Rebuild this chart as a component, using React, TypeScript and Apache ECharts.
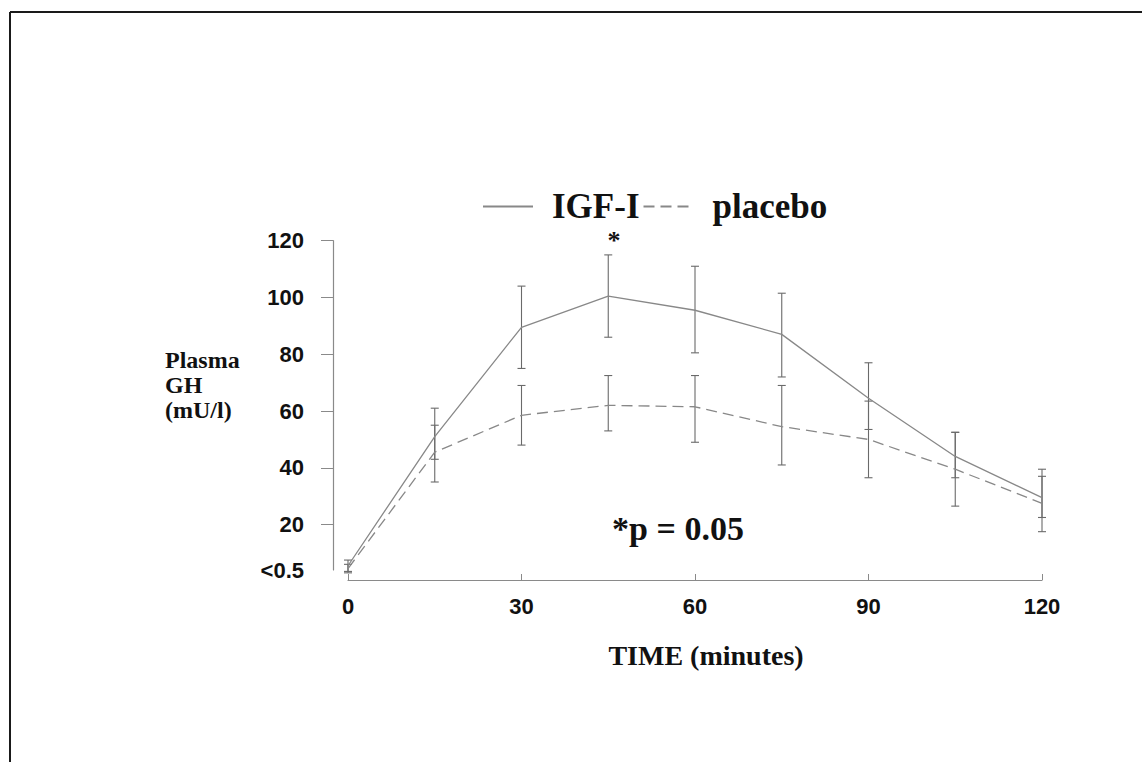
import React, { useEffect, useRef } from "react";
import * as echarts from "echarts";

// ---- data ----
const TIME_MIN = [0, 15, 30, 45, 60, 75, 90, 105, 120];
const IGF_MEAN = [5.5, 51, 89.5, 100.5, 95.5, 87, 64.5, 44, 29.5];
const IGF_LOW = [3.5, 43, 75, 86, 80.5, 72, 53.5, 36.5, 22.5];
const IGF_HIGH = [7.5, 61, 104, 115, 111, 101.5, 77, 52.5, 37];
const PLACEBO_MEAN = [4.5, 45.5, 58.5, 62, 61.5, 54.5, 50, 39.5, 27.5];
const PLACEBO_LOW = [3, 35, 48, 53, 49, 41, 36.5, 26.5, 17.5];
const PLACEBO_HIGH = [6, 55, 69, 72.5, 72.5, 69, 63.5, 52.5, 39.5];
const X_TICKS = [0, 30, 60, 90, 120];
const Y_TICKS = [20, 40, 60, 80, 100, 120];
const Y_FLOOR = 4; // bottom of the axis, labelled "<0.5"
const Y_FLOOR_LABEL = "<0.5";
const SERIES_NAMES = ["IGF-I", "placebo"];

const SERIF = "'Liberation Serif', 'Times New Roman', serif";
const SANS = "'Liberation Sans Narrow', 'Arial Narrow', 'Liberation Sans', Arial, sans-serif";

const GRID_TOP = 240.7;
const GRID_BOTTOM = 762 - 570;

function errorBars(name: string, low: number[], high: number[]) {
  return {
    type: "custom",
    name: name + " SEM",
    data: TIME_MIN.map((t, i) => [t, low[i], high[i]]),
    encode: { x: 0, y: [1, 2] },
    xAxisIndex: 0,
    yAxisIndex: 0,
    silent: true,
    z: 3,
    renderItem: (params: any, api: any) => {
      const lo = api.coord([api.value(0), api.value(1)]);
      const hi = api.coord([api.value(0), api.value(2)]);
      const w = 4;
      const st = { stroke: "#6a6a6a", lineWidth: 1.1 };
      return {
        type: "group",
        children: [
          { type: "line", shape: { x1: lo[0], y1: lo[1], x2: hi[0], y2: hi[1] }, style: st },
          { type: "line", shape: { x1: lo[0] - w, y1: lo[1], x2: lo[0] + w, y2: lo[1] }, style: st },
          { type: "line", shape: { x1: hi[0] - w, y1: hi[1], x2: hi[0] + w, y2: hi[1] }, style: st },
        ],
      };
    },
  };
}

export default function App() {
  const ref = useRef<HTMLDivElement>(null);
  useEffect(() => {
    document.body.style.margin = "0";
    const chart = echarts.init(ref.current!, null, { renderer: "svg" });
    chart.setOption({
      animation: false,
      backgroundColor: "#ffffff",
      grid: [
        { left: 348, right: 100, top: GRID_TOP, bottom: GRID_BOTTOM },
        { left: 333, width: 1, top: GRID_TOP, bottom: GRID_BOTTOM },
      ],
      legend: {
        data: SERIES_NAMES,
        left: 482,
        top: 189,
        padding: 0,
        itemWidth: 50,
        itemHeight: 14,
        itemGap: 3,
        itemStyle: { opacity: 0 },
        textStyle: {
          fontFamily: SERIF,
          fontWeight: "bold",
          fontSize: 35,
          color: "#111",
          padding: [0, 0, 0, 14],
        },
      },
      xAxis: [
        {
          type: "value",
          gridIndex: 0,
          min: 0,
          max: 120,
          offset: 10,
          splitLine: { show: false },
          axisLine: { show: true, lineStyle: { color: "#8a8a8a", width: 1.2 } },
          axisTick: { show: true, inside: true, length: 6, customValues: X_TICKS, lineStyle: { color: "#8a8a8a" } },
          axisLabel: {
            customValues: X_TICKS,
            margin: 15,
            fontFamily: SANS,
            fontWeight: "bold",
            fontSize: 22,
            color: "#111",
          },
        },
        { type: "value", gridIndex: 1, min: 0, max: 1, show: false },
      ],
      yAxis: [
        { type: "value", gridIndex: 0, min: Y_FLOOR, max: 120, show: false },
        {
          type: "value",
          gridIndex: 1,
          min: Y_FLOOR,
          max: 120,
          splitLine: { show: false },
          axisLine: { show: true, lineStyle: { color: "#8a8a8a", width: 1.2 } },
          axisTick: { show: true, inside: false, length: 12, customValues: Y_TICKS, lineStyle: { color: "#8a8a8a" } },
          axisLabel: {
            customValues: [Y_FLOOR, ...Y_TICKS],
            formatter: (v: number) => (v === Y_FLOOR ? Y_FLOOR_LABEL : String(v)),
            margin: 29,
            fontFamily: SANS,
            fontWeight: "bold",
            fontSize: 22,
            color: "#111",
          },
        },
      ],
      graphic: [
        { type: "line", shape: { x1: 10, y1: 12, x2: 1142, y2: 12 }, style: { stroke: "#1a1a1a", lineWidth: 2 } },
        { type: "line", shape: { x1: 10, y1: 12, x2: 10, y2: 762 }, style: { stroke: "#1a1a1a", lineWidth: 2 } },
        {
          type: "text",
          x: 614,
          y: 227,
          style: { text: "*", font: `bold 26px ${SERIF}`, fill: "#111", textAlign: "center", textVerticalAlign: "top" },
        },
        {
          type: "text",
          x: 678,
          y: 528,
          style: { text: "*p = 0.05", font: `bold 34px ${SERIF}`, fill: "#111", textAlign: "center", textVerticalAlign: "middle" },
        },
        {
          type: "text",
          x: 706,
          y: 655,
          style: { text: "TIME (minutes)", font: `bold 28px ${SERIF}`, fill: "#111", textAlign: "center", textVerticalAlign: "middle" },
        },
        {
          type: "text",
          x: 165,
          y: 385,
          style: {
            text: "Plasma\nGH\n(mU/l)",
            font: `bold 24px ${SERIF}`,
            lineHeight: 25,
            fill: "#111",
            textAlign: "left",
            textVerticalAlign: "middle",
          },
        },
      ],
      series: [
        {
          name: SERIES_NAMES[0],
          type: "line",
          xAxisIndex: 0,
          yAxisIndex: 0,
          data: TIME_MIN.map((t, i) => [t, IGF_MEAN[i]]),
          symbol: "none",
          lineStyle: { color: "#888888", width: 1.3, type: "solid" },
          itemStyle: { color: "#888888" },
          z: 4,
        },
        {
          name: SERIES_NAMES[1],
          type: "line",
          xAxisIndex: 0,
          yAxisIndex: 0,
          data: TIME_MIN.map((t, i) => [t, PLACEBO_MEAN[i]]),
          symbol: "none",
          lineStyle: { color: "#888888", width: 1.3, type: [11, 6] },
          itemStyle: { color: "#888888" },
          z: 4,
        },
        errorBars(SERIES_NAMES[0], IGF_LOW, IGF_HIGH),
        errorBars(SERIES_NAMES[1], PLACEBO_LOW, PLACEBO_HIGH),
      ],
    });
    return () => chart.dispose();
  }, []);
  return <div ref={ref} style={{ width: 1142, height: 762 }} />;
}
